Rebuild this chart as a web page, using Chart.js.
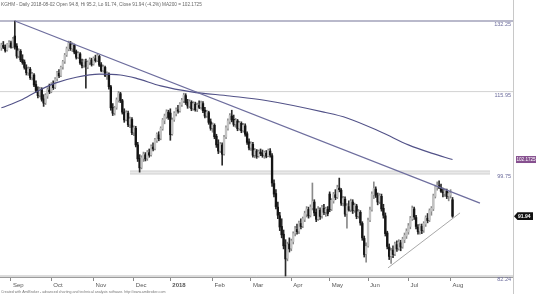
<!DOCTYPE html>
<html><head><meta charset="utf-8">
<script src="https://cdn.jsdelivr.net/npm/chart.js@4/dist/chart.umd.min.js"></script>
<style>html,body{margin:0;padding:0;background:#fff}#wrap{width:536px;height:294px}</style>
</head><body><div id="wrap"><canvas id="c" width="536" height="294"></canvas></div>
<script>
// ---- data (KGHM daily, 2017-08-25 .. 2018-08-02) ----
const openP = [125.8,126.4,125.9,125.3,126.5,127.0,126.1,128.6,126.2,124.0,
125.0,123.1,122.5,121.2,120.2,120.9,119.1,119.6,117.5,116.3,
115.2,116.4,114.4,113.6,115.0,116.3,116.0,117.5,116.9,118.8,
120.0,119.5,121.4,122.7,124.2,125.5,126.8,125.7,126.4,124.9,
123.7,124.4,122.4,121.8,122.6,121.4,122.5,123.0,122.1,123.3,
122.9,123.8,121.9,120.7,121.3,119.6,119.8,117.0,112.6,111.5,
112.6,114.1,115.5,114.0,111.6,110.1,111.4,109.1,110.1,107.5,
108.3,105.0,102.4,100.7,102.4,103.1,102.4,103.5,103.1,104.6,
104.3,105.9,107.0,106.3,108.2,109.9,110.7,111.6,111.4,107.2,
110.1,111.3,112.1,111.9,113.2,114.0,115.1,113.7,112.9,113.7,
112.4,113.3,112.2,113.0,112.7,113.4,112.0,110.9,111.5,109.6,
108.4,108.9,106.7,105.1,103.9,105.0,103.3,106.6,108.3,109.7,
110.8,110.1,109.2,109.8,108.3,109.3,107.9,108.8,107.2,105.6,
104.5,105.1,103.1,103.8,102.9,103.6,103.3,103.0,103.4,102.9,
103.8,102.9,97.7,95.9,93.5,92.0,90.2,88.9,87.1,85.0,
87.3,86.6,87.7,89.1,89.7,89.4,90.7,90.3,91.4,92.3,
93.1,92.1,93.4,94.4,92.6,91.5,93.0,92.0,93.3,92.7,
93.1,95.8,93.2,94.6,95.7,95.3,96.9,96.5,94.3,94.9,
92.4,93.6,93.1,94.4,93.0,93.7,92.0,92.6,90.7,88.2,
85.7,87.0,91.3,93.1,95.7,96.7,95.5,94.5,95.4,93.3,
92.0,89.1,86.8,85.4,86.3,85.7,87.2,86.6,87.5,86.9,
88.0,88.6,89.3,90.2,91.5,93.2,91.7,90.1,89.4,90.2,
89.6,90.6,91.6,91.3,92.8,93.2,95.4,97.0,97.3,97.0,
96.2,95.9,96.3,95.5,95.6,94.8];
const highP = [126.9,127.3,126.5,126.8,127.5,127.4,128.3,132.25,126.8,125.6,
125.4,124.2,123.0,121.9,121.4,121.3,120.2,119.9,118.3,117.0,
116.9,116.8,115.3,115.5,116.8,117.6,117.9,118.3,119.0,120.4,
120.8,121.6,122.9,124.5,126.0,127.4,127.3,127.0,126.7,125.3,
124.9,124.7,123.2,123.1,123.2,122.8,123.5,123.4,123.7,124.1,
124.4,124.1,122.4,121.8,121.6,120.3,120.1,117.3,113.4,112.8,
114.6,116.0,115.8,114.3,112.3,111.9,111.8,110.6,110.5,108.8,
108.7,105.5,103.1,102.9,103.6,103.5,103.9,104.2,105.0,105.4,
106.3,107.4,107.6,108.6,110.3,111.2,112.1,112.0,112.3,110.4,
111.7,112.5,113.0,113.6,114.5,115.6,115.5,114.3,114.2,114.0,
113.8,113.7,113.5,114.0,113.9,113.8,112.6,112.0,111.8,110.2,
109.4,109.2,107.1,106.0,105.5,105.4,106.9,108.8,110.2,111.3,
112.0,111.0,110.3,110.1,109.7,109.6,109.3,109.2,107.6,106.2,
105.6,105.5,104.3,104.1,104.0,104.2,104.0,103.8,103.9,104.2,
104.3,103.3,98.4,96.6,94.4,92.6,91.5,89.6,88.0,87.6,
88.3,88.1,89.3,90.2,90.6,91.1,91.5,91.8,92.8,93.6,
93.5,93.9,97.8,94.8,93.2,93.6,93.4,93.8,94.0,93.5,
93.6,96.2,95.0,96.1,96.6,97.4,98.7,96.8,95.4,95.3,
94.1,94.6,94.9,94.8,94.2,94.0,93.1,92.9,91.0,88.6,
87.5,91.6,93.5,96.2,98.0,97.1,96.0,95.9,95.8,94.0,
92.5,89.4,87.3,86.6,87.0,87.6,87.8,88.0,87.9,88.4,
89.1,89.8,90.7,91.9,93.7,93.5,92.1,90.5,90.6,90.6,
91.0,92.0,92.4,93.2,93.6,95.8,97.4,98.0,98.2,97.6,
96.9,96.8,96.7,96.2,96.6,95.2];
const lowP = [125.2,125.6,124.8,125.0,125.9,125.7,125.8,125.5,123.4,123.5,
122.6,122.0,120.9,119.6,119.5,118.6,118.5,117.0,115.8,114.6,
114.8,113.9,112.8,113.2,114.5,115.5,115.7,116.4,116.6,118.3,
119.0,119.2,120.9,122.2,123.8,125.1,125.2,124.9,124.4,123.2,
123.3,122.0,121.2,121.3,116.7,121.0,121.9,121.6,121.8,122.5,
122.6,121.5,120.3,120.2,119.2,118.6,116.5,112.0,110.9,111.0,
112.2,113.7,113.6,111.2,109.5,109.8,108.6,108.4,107.0,106.8,
104.6,101.8,99.8,100.4,101.8,101.9,102.0,102.6,102.8,103.8,
104.0,105.5,105.8,106.0,107.9,109.2,110.3,110.1,105.9,106.9,
109.7,110.8,111.4,111.6,112.8,113.6,113.2,112.4,112.5,111.9,
112.0,111.8,111.7,112.3,112.2,111.5,110.4,110.5,109.1,107.9,
107.5,106.2,104.5,103.3,103.5,101.1,103.0,106.2,107.9,109.2,
109.6,108.7,108.5,107.8,107.9,107.4,107.5,106.7,105.1,104.0,
103.9,102.6,102.5,102.4,102.6,102.9,102.6,102.4,102.5,102.7,
102.6,97.2,95.3,93.2,91.5,89.5,88.3,86.5,82.24,84.6,
86.0,86.2,87.3,88.6,88.9,89.0,89.8,90.0,91.0,91.8,
91.6,91.8,93.0,92.0,91.0,91.2,91.4,91.6,92.2,91.9,
92.0,92.7,92.9,94.2,94.8,95.0,96.2,93.8,93.7,91.9,
89.9,92.8,92.7,92.4,92.6,91.5,91.6,90.4,87.9,85.2,
84.4,86.8,91.0,92.8,95.0,95.2,93.9,94.1,92.8,91.6,
88.6,86.5,84.8,84.2,85.1,85.4,86.1,86.3,86.2,86.6,
87.5,88.2,88.9,89.8,91.2,91.4,89.8,88.9,88.9,89.0,
89.2,90.2,90.8,91.0,92.1,92.9,95.1,96.5,96.8,96.1,
95.3,95.4,95.0,94.6,95.1,91.74];
const closeP = [126.5,125.9,125.2,126.6,127.1,126.0,127.9,126.0,123.9,125.1,
123.0,122.4,121.3,120.1,121.0,119.0,119.8,117.4,116.2,115.1,
116.5,114.3,113.5,115.2,116.4,115.9,117.6,116.8,118.7,120.1,
119.4,121.3,122.6,124.1,125.6,126.9,125.6,126.5,124.8,123.6,
124.5,122.3,121.7,122.8,121.5,122.5,123.1,122.0,123.4,122.8,
124.0,121.8,120.6,121.4,119.5,119.9,117.0,112.5,111.4,112.5,
114.2,115.6,114.0,111.6,110.0,111.5,109.0,110.2,107.4,108.4,
105.0,102.3,100.6,102.5,103.2,102.3,103.6,103.0,104.7,104.2,
106.0,107.1,106.2,108.3,110.0,110.8,111.7,110.5,107.0,110.0,
111.4,112.2,111.8,113.3,114.1,115.2,113.6,112.9,113.8,112.3,
113.4,112.1,113.1,112.6,113.5,111.9,110.8,111.6,109.5,108.3,
109.0,106.6,105.0,103.8,105.1,103.2,106.5,108.4,109.8,110.9,
110.0,109.1,109.9,108.2,109.4,107.8,108.9,107.1,105.5,104.4,
105.2,103.0,103.9,102.8,103.7,103.3,102.9,103.5,102.8,103.9,
103.0,97.8,95.8,93.6,92.1,90.1,88.8,87.0,84.9,87.2,
86.5,87.8,89.0,89.8,89.3,90.8,90.2,91.5,92.4,93.2,
92.0,93.5,94.5,92.5,91.4,93.1,91.9,93.4,92.6,93.2,
92.4,93.1,94.7,95.8,95.2,97.0,96.6,94.2,95.0,92.3,
93.7,93.0,94.5,92.9,93.8,91.9,92.7,90.8,88.3,85.6,
86.9,91.2,93.0,95.8,96.8,95.6,94.4,95.5,93.2,92.1,
89.0,86.9,85.3,86.2,85.6,87.3,86.5,87.6,86.8,88.1,
88.7,89.4,90.3,91.6,93.3,91.8,90.2,89.3,90.3,89.5,
90.7,91.7,91.2,92.9,93.3,95.5,97.1,97.4,96.9,96.3,
96.0,96.4,95.4,95.9,96.0,91.94];

// MA200 read at sample bars
const maIdx = [0,10,19,28,39,51,62,70,83,99,119,137,168,180,198,212,224,235];
const maVal = [112.5,114.1,116.1,117.8,119.1,119.8,119.6,118.9,117.2,115.9,115.0,114.1,111.6,110.4,107.5,105.0,103.4,102.17];

// x-axis month ticks (bar index of first session in month)
const monthLabels = ['Sep','Oct','Nov','Dec','2018','Feb','Mar','Apr','May','Jun','Jul','Aug'];
const monthStartIdx = [5,26,48,69,88,110,130,151,171,191,212,234];

// horizontal levels
const levelValues = [132.25,115.95,99.75,82.24];
const levelText = ['132.25','115.95','99.75','82.24'];
const bandIdx = [67,254.5];

// trend lines (bar index, price)
const downTrendIdx = [7,249.3];
const downTrendVal = [132.25,94.2];
const upTrendIdx = [201.4,238.9];
const upTrendVal = [83.5,92.5];

const headerText = 'KGHM - Daily 2018-08-02 Open 94.8, Hi 95.2, Lo 91.74, Close 91.94 (-4.2%) MA200 = 102.1725';
const footerText = 'Created with AmiBroker - advanced charting and technical analysis software. http://www.amibroker.com';
const maLast = 102.1725, closeLast = 91.94;

const X_MIN = -0.73, X_MAX = 266.5;
const FONT = '"Liberation Sans", Arial, sans-serif';

const isUp = i => closeP[i] >= openP[i];
const pts = (xs, ys) => xs.map((x,k)=>({x, y: ys[k]}));

const datasets = [
  {type:'line', data: pts([X_MIN,X_MAX],[levelValues[0],levelValues[0]]), borderColor:'#a2a2ba', borderWidth:1.5, pointRadius:0, order:6},
  {type:'line', data: pts([X_MIN,X_MAX],[levelValues[1],levelValues[1]]), borderColor:'#d2d2d2', borderWidth:1, pointRadius:0, order:6},
  {type:'line', data: pts(bandIdx,[levelValues[2],levelValues[2]]), borderColor:'#d0d0d0', borderWidth:4, pointRadius:0, order:6},
  {type:'line', data: pts(bandIdx,[levelValues[2],levelValues[2]]), borderColor:'#e9e9e9', borderWidth:2, pointRadius:0, order:5},
  {type:'line', data: pts([X_MIN,X_MAX],[levelValues[3],levelValues[3]]), borderColor:'#b8b8b8', borderWidth:1, pointRadius:0, order:5},
  {type:'bar', data: lowP.map((l,i)=>({x:i, y:[l, highP[i]]})), backgroundColor: lowP.map((l,i)=> isUp(i)?'#8a8a8a':'#2a2a2a'), barThickness:1, grouped:false, order:4},
  {type:'bar', data: openP.map((o,i)=>({x:i, y:[o, closeP[i]]})), backgroundColor: openP.map((o,i)=> isUp(i)?'#c2c2c2':'#141414'), barThickness:1.7, grouped:false, order:3},
  {type:'line', data: pts(maIdx, maVal), borderColor:'#525288', borderWidth:1.1, pointRadius:0, tension:0.4, cubicInterpolationMode:'monotone', order:2},
  {type:'line', data: pts(downTrendIdx, downTrendVal), borderColor:'#6e6e9e', borderWidth:1.3, pointRadius:0, order:1},
  {type:'line', data: pts(upTrendIdx, upTrendVal), borderColor:'#a9a9a9', borderWidth:1, pointRadius:0, order:1}
];

const overlay = {
  id:'overlay',
  beforeDraw(chart){ const c=chart.ctx; c.save(); c.fillStyle='#fff'; c.fillRect(0,0,chart.width,chart.height); c.restore(); },
  afterDraw(chart){
    const c = chart.ctx, ys = chart.scales.y;
    c.save();
    c.strokeStyle='#c8c8c8'; c.lineWidth=1;
    c.beginPath(); c.moveTo(513.5,0); c.lineTo(513.5,294); c.stroke();
    c.font = '5.5px ' + FONT; c.fillStyle = '#6c6c9c'; c.textAlign='right'; c.textBaseline='top';
    levelValues.forEach((v,k)=> c.fillText(levelText[k], 511, ys.getPixelForValue(v) + 1));
    // MA tag
    let py = ys.getPixelForValue(maLast);
    c.fillStyle = '#86508f'; c.fillRect(516, py-3.5, 20, 7);
    c.fillStyle = '#fff'; c.font = '4.6px ' + FONT; c.textAlign='left'; c.textBaseline='middle';
    c.fillText(String(maLast), 516.5, py+0.3);
    // close tag
    py = ys.getPixelForValue(closeLast);
    c.fillStyle = '#111'; c.beginPath();
    c.moveTo(514, py); c.lineTo(517.5, py-3.8); c.lineTo(533, py-3.8); c.lineTo(533, py+3.8); c.lineTo(517.5, py+3.8); c.closePath(); c.fill();
    c.fillStyle = '#fff'; c.font = 'bold 5px ' + FONT;
    c.fillText(String(closeLast), 518, py+0.3);
    // header & footer
    c.fillStyle = '#666'; c.font = '4.7px ' + FONT; c.textAlign='left'; c.textBaseline='middle';
    c.fillText(headerText, 1, 5);
    c.font = '3.6px ' + FONT; c.fillStyle='#777';
    c.fillText(footerText, 1, 291.5);
    c.restore();
  }
};

new Chart(document.getElementById('c'), {
  type: 'bar',
  data: { datasets },
  options: {
    responsive:false, animation:false, devicePixelRatio:1,
    layout:{ padding:{left:0, right:23, top:10, bottom:6} },
    plugins:{ legend:{display:false}, tooltip:{enabled:false} },
    scales:{
      x:{ type:'linear', min:X_MIN, max:X_MAX, bounds:'data', offset:false,
          grid:{ display:true, drawOnChartArea:false, drawTicks:true, tickLength:4, color:'#8a8a8a', offset:false },
          border:{ display:true, color:'#9c9c9c', width:1 },
          afterBuildTicks: s => { s.ticks = monthStartIdx.map(v=>({value:v})); },
          afterFit: s => { s.height = 11; },
          ticks:{ autoSkip:false, maxRotation:0, minRotation:0, align:'start', labelOffset:2, padding:1, color:'#555',
                  font: ctx => ({family:FONT, size:6, weight: (ctx.tick && ctx.tick.value===88) ? 'bold':'normal'}),
                  callback: v => { const k = monthStartIdx.indexOf(v); return k>=0 ? monthLabels[k] : ''; } } },
      y:{ type:'logarithmic', min:82.09, max:134.99, bounds:'data', display:false }
    }
  },
  plugins:[overlay]
});
</script></body></html>
